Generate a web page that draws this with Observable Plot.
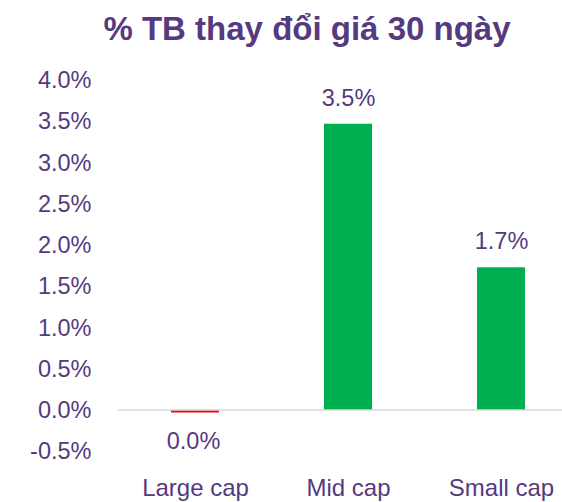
<!DOCTYPE html>
<html>
<head>
<meta charset="utf-8">
<script src="https://cdn.jsdelivr.net/npm/d3@7"></script>
<script src="https://cdn.jsdelivr.net/npm/@observablehq/plot@0.6"></script>
<style>
  html, body { margin: 0; padding: 0; background: #fff; }
  #wrap { position: relative; width: 562px; height: 502px; overflow: hidden; }
  #title { position: absolute; left: 0; width: 614px; top: 12px; text-align: center;
    font: bold 33px "Liberation Sans", Arial, sans-serif; line-height: 33px; color: #553a80; }
  #chart { position: absolute; left: 0; top: 0; }
</style>
</head>
<body>
<div id="wrap">
  <div id="chart"></div>
  <div id="title">% TB thay đổi giá 30 ngày</div>
</div>
<script>
const categories = ["Large cap", "Mid cap", "Small cap"];
const values = [-0.03, 3.47, 1.73];
const yTicks = [-0.5, 0, 0.5, 1, 1.5, 2, 2.5, 3, 3.5, 4];

const data = categories.map((c, i) => ({ cat: c, v: values[i] }));
const purple = "#553a80";
const fmt = v => (Math.round(v * 10) / 10).toFixed(1) + "%";

const chart = Plot.plot({
  width: 562,
  height: 502,
  marginLeft: 118,
  marginRight: 0,
  marginTop: 80,
  marginBottom: 51,
  style: { fontFamily: "'Liberation Sans', Arial, sans-serif", fontSize: "24px", color: purple, background: "#fff", overflow: "hidden" },
  x: { domain: categories, range: [118.5, 577.5], paddingInner: 0.686, paddingOuter: 0.343, label: null },
  y: { domain: [-0.5, 4], range: [451.25, 80], label: null },
  marks: [
    Plot.axisY({ ticks: yTicks, tickFormat: d => d.toFixed(1) + "%", tickSize: 0, tickPadding: 27, fill: purple, fontSize: 23.5, label: null }),
    Plot.axisX({ tickSize: 0, tickPadding: 27, fill: purple, fontSize: 24, label: null }),
    Plot.barY(data, { x: "cat", y: "v", fill: d => d.v < 0 ? "#ff0000" : "#00b050" }),
    Plot.ruleY([0], { stroke: "#d9d9d9", strokeWidth: 1.5, dy: -0.5 }),
    Plot.text(data, { x: "cat", y: "v", text: d => fmt(d.v), dy: -26, filter: d => d.v >= 0, fill: purple, fontSize: 23.5 }),
    Plot.text(data, { x: "cat", y: "v", text: d => fmt(d.v), dy: 28, dx: -2, filter: d => d.v < 0, fill: purple, fontSize: 23.5 })
  ]
});
document.getElementById("chart").appendChild(chart);
</script>
</body>
</html>
